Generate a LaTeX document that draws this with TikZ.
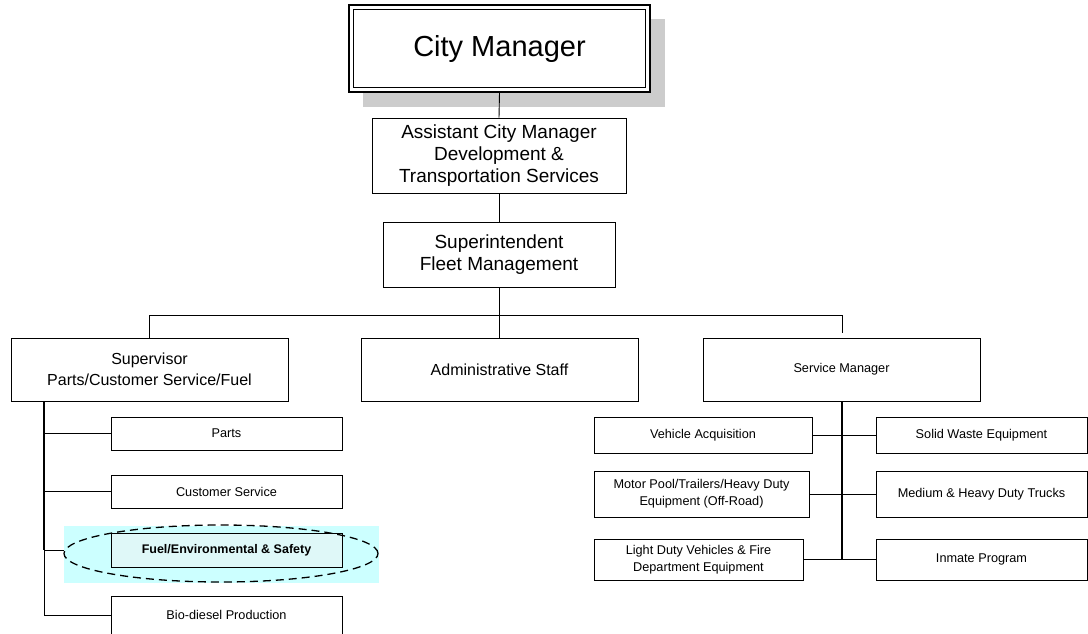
\documentclass[tikz,border=0pt]{standalone}
\usepackage{fontspec}
\setmainfont{Liberation Sans}
\usetikzlibrary{shapes.geometric}
\definecolor{hlcyan}{HTML}{CCFFFF}
\definecolor{fuelfill}{HTML}{DFF8F8}
\definecolor{shadowgray}{HTML}{CCCCCC}
\tikzset{
  box/.style={draw=black, line width=0.9pt, fill=white, rectangle, inner sep=0pt, align=center, text=black},
  big/.style={font=\fontsize{29}{33}\selectfont},
  mid/.style={font=\fontsize{19}{22.3}\selectfont},
  med/.style={font=\fontsize{16}{20.7}\selectfont},
  sml/.style={font=\fontsize{12.7}{16.7}\selectfont},
  conn/.style={draw=black, line width=0.9pt},
  trunk/.style={draw=black, line width=1.8pt},
}
\begin{document}
\begin{tikzpicture}[x=1pt,y=-1pt]
\clip (0,0) rectangle (1088,633);
\fill[white] (0,0) rectangle (1088,633);
% City manager with shadow and double border
\node[fill=shadowgray, minimum width=302pt, minimum height=88pt, inner sep=0pt] (cmshadow) at (514,63) {};
\node[box, big, line width=1.5pt, minimum width=301pt, minimum height=87pt] (cm) at (499.5,48.5) {City Manager};
\node[draw=black, line width=0.9pt, minimum width=292pt, minimum height=78pt, inner sep=0pt] (cminner) at (499.5,48.5) {};
\node[box, mid, minimum width=254pt, minimum height=75pt] (acm) at (499,155.5) {Assistant City Manager\\Development \&\\Transportation Services};
\node[box, mid, minimum width=232pt, minimum height=65pt] (sup) at (499,254.5) {Superintendent\\Fleet Management};
\node[box, med, minimum width=277pt, minimum height=63pt] (spv) at (149.5,369.5) {Supervisor\\Parts/Customer Service/Fuel};
\node[box, med, minimum width=277pt, minimum height=63pt] (adm) at (499.5,369.5) {Administrative Staff};
\node[box, sml, minimum width=277pt, minimum height=63pt] (svc) at (841.5,369.5) {Service Manager};
% connectors top
\draw[conn] (cm.south) -- (acm.north);
\draw[conn] (acm.south) -- (sup.north);
\coordinate (bus) at (499,315);
\coordinate (svctop) at (842,333);
\draw[conn] (sup.south) -- (bus);
\draw[conn] (spv.north) -- (spv.north |- bus) -- (svctop |- bus) -- (svctop);
\draw[conn] (adm.north) -- (adm.north |- bus);
% left children
\node[fill=hlcyan, minimum width=315pt, minimum height=57pt, inner sep=0pt] (hl) at (221.5,554.5) {};
\node[box, sml, minimum width=231pt, minimum height=33pt] (parts) at (226.5,433.5) {Parts};
\node[box, sml, minimum width=231pt, minimum height=33pt] (cust) at (226.5,491.5) {Customer Service};
\node[box, sml, fill=fuelfill, minimum width=231pt, minimum height=34pt, font=\fontsize{12.5}{15}\selectfont\bfseries] (fuel) at (226.5,550) {Fuel/Environmental \& Safety};
\node[draw=black, line width=1.3pt, dash pattern=on 8pt off 5pt, ellipse, minimum width=314pt, minimum height=57pt, inner sep=0pt] (ell) at (221,553.5) {};
\node[box, sml, minimum width=231pt, minimum height=38pt] (bio) at (226.5,615) {Bio-diesel Production};
\coordinate (ltop) at (44,401);
\coordinate (lbot) at (44,615);
\draw[trunk] (ltop) -- (ltop |- fuel.west);
\draw[conn] (ltop |- fuel.west) -- (lbot);
\draw[conn] (ltop |- parts.west) -- (parts.west);
\draw[conn] (ltop |- cust.west) -- (cust.west);
\draw[conn] (ltop |- fuel.west) -- (hl.west |- fuel.west);
\draw[conn] (lbot) -- (bio.west |- lbot);
% right children
\node[box, sml, minimum width=218pt, minimum height=36pt] (veh) at (703,435) {Vehicle Acquisition};
\node[box, sml, minimum width=215pt, minimum height=46pt] (motor) at (701.5,494) {Motor Pool/Trailers/Heavy Duty\\Equipment (Off-Road)};
\node[box, sml, minimum width=209pt, minimum height=41pt] (light) at (698.5,559.5) {Light Duty Vehicles \& Fire\\Department Equipment};
\node[box, sml, minimum width=211pt, minimum height=36pt] (solid) at (981.5,435) {Solid Waste Equipment};
\node[box, sml, minimum width=211pt, minimum height=46pt] (medt) at (981.5,494) {Medium \& Heavy Duty Trucks};
\node[box, sml, minimum width=211pt, minimum height=41pt] (inm) at (981.5,559.5) {Inmate Program};
\coordinate (rtop) at (842,401);
\coordinate (rbot) at (842,560);
\draw[trunk] (rtop) -- (rbot);
\draw[conn] (veh.east) -- (solid.west);
\draw[conn] (motor.east) -- (medt.west);
\draw[conn] (light.east) -- (inm.west);
\end{tikzpicture}
\end{document}
